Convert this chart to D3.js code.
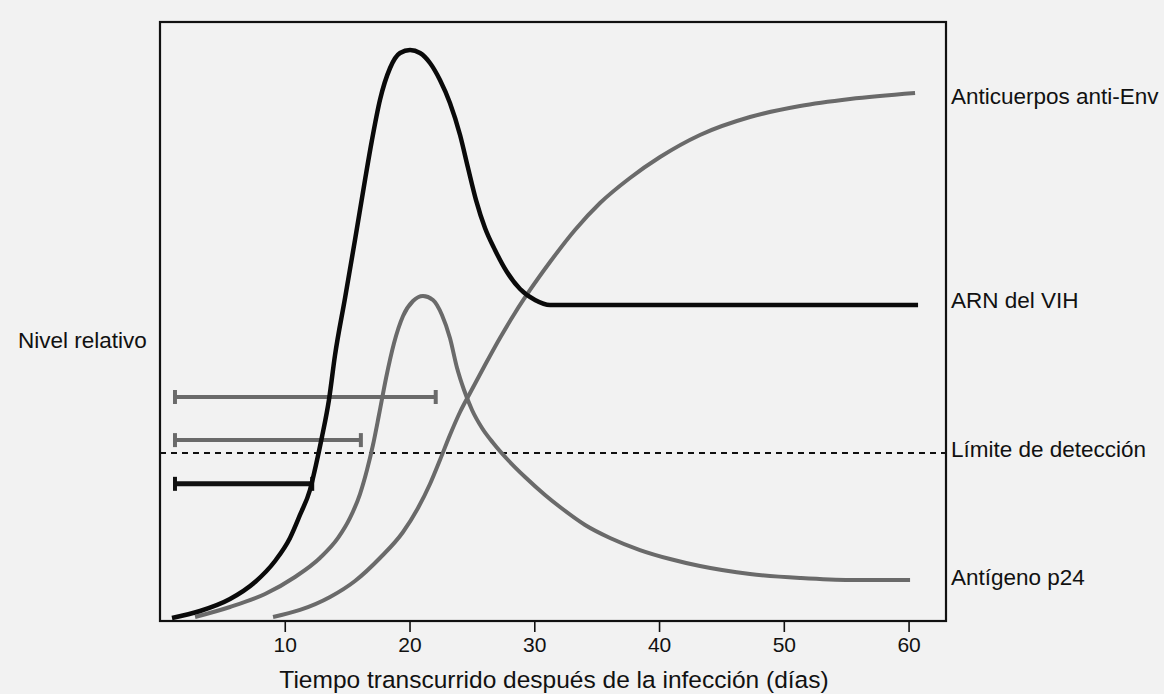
<!DOCTYPE html>
<html>
<head>
<meta charset="utf-8">
<script src="https://cdn.jsdelivr.net/npm/d3@7"></script>
<style>
  html, body { margin: 0; padding: 0; background: #f2f2f2; }
  svg { display: block; }
  text { font-family: "Liberation Sans", Arial, Helvetica, sans-serif; fill: #111; }
</style>
</head>
<body>
<svg id="chart" width="1164" height="694"></svg>
<script>
// ---- data (day, relative level) ----
const rnaDays   = [0.96, 3.21, 5.61, 7.62, 9.22, 10.42, 11.22, 12.02, 12.50, 12.98, 13.54, 14.03, 14.83, 15.63, 16.43, 16.99, 17.63, 18.44, 19.24, 20.04, 20.84, 21.64, 22.44, 23.24, 24.05, 24.69, 25.33, 26.05, 26.85, 27.81, 28.86, 30.06, 31.26, 60.76];
const rnaLevels = [0.50, 1.67, 3.67, 6.51, 10.02, 13.86, 17.70, 21.87, 26.04, 30.72, 36.89, 44.41, 53.92, 63.61, 73.62, 80.30, 86.98, 92.32, 94.82, 95.33, 94.82, 93.16, 90.32, 86.48, 81.14, 75.63, 70.28, 65.61, 61.94, 58.26, 55.43, 53.59, 52.75, 52.75];

const p24Days   = [2.81, 5.61, 8.42, 10.82, 12.82, 14.27, 15.23, 16.03, 16.59, 17.07, 17.55, 18.12, 18.76, 19.48, 20.28, 21.08, 21.88, 22.60, 23.24, 23.81, 24.37, 25.01, 25.81, 26.77, 27.89, 29.26, 30.86, 32.06, 34.07, 36.07, 38.47, 40.88, 43.28, 47.29, 51.30, 55.31, 60.12];
const p24Levels = [0.67, 2.34, 4.51, 7.35, 10.52, 13.86, 17.20, 21.20, 25.21, 29.38, 34.39, 40.57, 46.41, 50.92, 53.42, 54.26, 53.59, 51.09, 47.25, 42.24, 38.56, 35.23, 32.22, 29.55, 26.88, 24.04, 21.04, 19.03, 16.03, 13.86, 11.85, 10.35, 9.18, 7.85, 7.18, 6.84, 6.84];

const envDays   = [9.06, 11.22, 13.63, 15.63, 17.63, 19.48, 20.68, 21.64, 22.44, 23.24, 24.05, 24.85, 26.05, 27.25, 28.45, 29.66, 31.26, 33.26, 35.27, 37.67, 40.08, 43.28, 47.29, 51.30, 55.31, 60.52];
const envLevels = [0.67, 1.84, 4.01, 6.68, 10.52, 14.86, 18.86, 22.87, 26.88, 31.05, 34.89, 38.06, 42.74, 47.25, 51.42, 55.26, 59.93, 65.28, 69.78, 73.96, 77.46, 81.14, 84.14, 85.98, 87.15, 88.15];

// detection windows (start day, end day, level)
const windowNames  = ["Anticuerpos", "p24", "ARN"];
const windowStart  = [1.2, 1.2, 1.2];
const windowEnd    = [22.1, 16.1, 12.2];
const windowLevel  = [37.4, 30.2, 22.9];

const detectionLimit = 28.05;

const xTicks = [10, 20, 30, 40, 50, 60];
const seriesLabels = ["Anticuerpos anti-Env", "ARN del VIH", "Límite de detección", "Antígeno p24"];
const labelLevels  = [87.6, 53.5, 28.7, 7.4];

// ---- layout ----
const svg = d3.select("#chart");
const x = d3.scaleLinear().domain([0, 63]).range([160, 946]);
const y = d3.scaleLinear().domain([0, 100]).range([621, 22]);

const gray = "#6a6a6a";

// frame
svg.append("rect")
  .attr("x", x(0)).attr("y", y(100))
  .attr("width", x(63) - x(0)).attr("height", y(0) - y(100))
  .attr("fill", "none").attr("stroke", "#111").attr("stroke-width", 2.2);

// x axis ticks
const xAxis = d3.axisBottom(x).tickValues(xTicks).tickSize(11).tickPadding(5).tickFormat(d3.format("d"));
const gx = svg.append("g").attr("transform", `translate(0,${y(0)})`).call(xAxis);
gx.select(".domain").remove();
gx.selectAll(".tick line").attr("stroke", "#111").attr("stroke-width", 1.6);
gx.selectAll(".tick text").style("font-size", "21px").attr("fill", "#111");

// axis titles
svg.append("text").attr("x", 554).attr("y", 688).attr("text-anchor", "middle")
  .style("font-size", "24.5px").text("Tiempo transcurrido después de la infección (días)");
svg.append("text").attr("x", 18).attr("y", 340).attr("dy", "0.35em")
  .style("font-size", "22.5px").text("Nivel relativo");

// detection limit
svg.append("line")
  .attr("x1", x(0)).attr("x2", x(63))
  .attr("y1", y(detectionLimit)).attr("y2", y(detectionLimit))
  .attr("stroke", "#111").attr("stroke-width", 2.2).attr("stroke-dasharray", "6,5");

// windows
const windows = windowNames.map((n, i) => ({n, s: windowStart[i], e: windowEnd[i], v: windowLevel[i]}));
windows.forEach(w => {
  const isBlack = w.n === "ARN";
  const c = isBlack ? "#111" : gray;
  const sw = isBlack ? 5 : 4;
  const g = svg.append("g");
  g.append("line").attr("x1", x(w.s)).attr("x2", x(w.e)).attr("y1", y(w.v)).attr("y2", y(w.v))
    .attr("stroke", c).attr("stroke-width", sw);
  [w.s, w.e].forEach(d => {
    g.append("line").attr("x1", x(d)).attr("x2", x(d)).attr("y1", y(w.v) - 7).attr("y2", y(w.v) + 7)
      .attr("stroke", c).attr("stroke-width", 4);
  });
});

// curves
const line = d3.line().x(d => x(d[0])).y(d => y(d[1])).curve(d3.curveMonotoneX);
const zip = (a, b) => a.map((v, i) => [v, b[i]]);

svg.append("path").datum(zip(envDays, envLevels)).attr("d", line)
  .attr("fill", "none").attr("stroke", gray).attr("stroke-width", 4);
svg.append("path").datum(zip(p24Days, p24Levels)).attr("d", line)
  .attr("fill", "none").attr("stroke", gray).attr("stroke-width", 4);
svg.append("path").datum(zip(rnaDays, rnaLevels)).attr("d", line)
  .attr("fill", "none").attr("stroke", "#0a0a0a").attr("stroke-width", 4.5);

// right labels
seriesLabels.forEach((t, i) => {
  svg.append("text").attr("x", 951).attr("y", y(labelLevels[i])).attr("dy", "0.35em")
    .style("font-size", "22.5px").text(t);
});
</script>
</body>
</html>
